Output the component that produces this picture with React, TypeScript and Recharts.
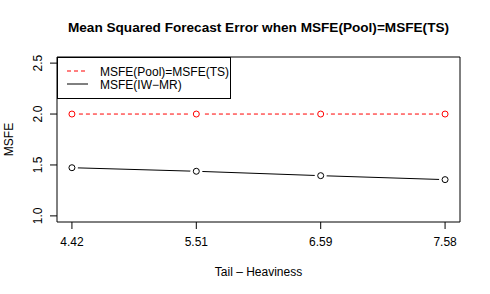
import { LineChart, Line, XAxis, YAxis, ReferenceArea } from 'recharts'

const categories = ['4.42', '5.51', '6.59', '7.58']
const poolValues = [2.0, 2.0, 2.0, 2.0]
const iwmrValues = [1.473, 1.438, 1.395, 1.356]
const yTicks = [1.0, 1.5, 2.0, 2.5]
const seriesNames = ['MSFE(Pool)=MSFE(TS)', 'MSFE(IW\u2212MR)']

const data = categories.map((c, i) => ({ idx: i + 1, label: c, pool: poolValues[i], iwmr: iwmrValues[i] }))

const FONT = '"Liberation Sans", Arial, Helvetica, sans-serif'

// R type="b": open circle with a gap around it
const OpenDot = (color:string) => (p:any) => {
    if (p.cx == null || p.cy == null) return null
    return <g key={p.key}>
        <circle cx={p.cx} cy={p.cy} r={6} fill='#fff' stroke='none'/>
        <circle cx={p.cx} cy={p.cy} r={3} fill='none' stroke={color} strokeWidth={1}/>
    </g>
}

const YTick = ({ x, y, payload }:any) =>
    <text x={x} y={y} transform={`rotate(-90, ${x}, ${y})`} textAnchor='middle'
        fontSize={12} fontFamily={FONT} fill='#000'>{payload.value.toFixed(1)}</text>

const XTick = ({ x, y, payload }:any) =>
    <text x={x} y={y + 17} textAnchor='middle' fontSize={12} fontFamily={FONT} fill='#000'>
        {categories[payload.value - 1]}
    </text>

const YLabel = ({ viewBox }:any) => {
    const cy = viewBox.y + viewBox.height / 2
    return <text x={13} y={cy} transform={`rotate(-90, 13, ${cy})`} textAnchor='middle'
        fontSize={12} fontFamily={FONT} fill='#000'>MSFE</text>
}

export default function App() {
    return <div style={{ position:'absolute', left:0, top:0, width:490, height:294, background:'#fff', fontFamily:FONT }}>
        <div style={{ position:'absolute', left:57, width:403, top:20, textAlign:'center', fontWeight:'bold', fontSize:13.6 }}>
            Mean Squared Forecast Error when MSFE(Pool)=MSFE(TS)
        </div>
        <LineChart width={490} height={294} data={data} margin={{ top:57, right:30, bottom:0, left:0 }}>
            <XAxis dataKey='idx' type='number' domain={[0.88, 4.12]} ticks={[1, 2, 3, 4]}
                height={72} tickSize={7} tickMargin={0} axisLine={false}
                tickLine={{ stroke:'#000' }} tick={<XTick/>} interval={0}
                label={{ value:'Tail \u2013 Heaviness', position:'insideBottom', offset:18, fontSize:12, fontFamily:FONT, fill:'#000' }}/>
            <YAxis type='number' domain={[0.94, 2.56]} ticks={yTicks} width={57}
                tickSize={7} tickMargin={8} axisLine={false} tickLine={{ stroke:'#000' }}
                tick={<YTick/>} interval={0} label={<YLabel/>} allowDataOverflow/>
            <ReferenceArea x1={0.88} x2={4.12} y1={0.94} y2={2.56} fill='none' stroke='#000' strokeWidth={1} ifOverflow='visible'/>
            <Line dataKey='pool' stroke='#ff0000' strokeDasharray='4 3' strokeWidth={1}
                dot={OpenDot('#ff0000')} activeDot={false} isAnimationActive={false}/>
            <Line dataKey='iwmr' stroke='#000' strokeWidth={1}
                dot={OpenDot('#000')} activeDot={false} isAnimationActive={false}/>
        </LineChart>
        <svg style={{ position:'absolute', left:57, top:57 }} width={174} height={42}>
            <rect x={0.5} y={0.5} width={173} height={41} fill='#fff' stroke='#000'/>
            <line x1={10} x2={31} y1={14} y2={14} stroke='#ff0000' strokeWidth={1.2} strokeDasharray='4 3'/>
            <text x={43} y={18.5} fontSize={12} fontFamily={FONT} fill='#000'>{seriesNames[0]}</text>
            <line x1={10} x2={31} y1={27} y2={27} stroke='#000'/>
            <text x={43} y={31.5} fontSize={12} fontFamily={FONT} fill='#000'>{seriesNames[1]}</text>
        </svg>
    </div>
}
